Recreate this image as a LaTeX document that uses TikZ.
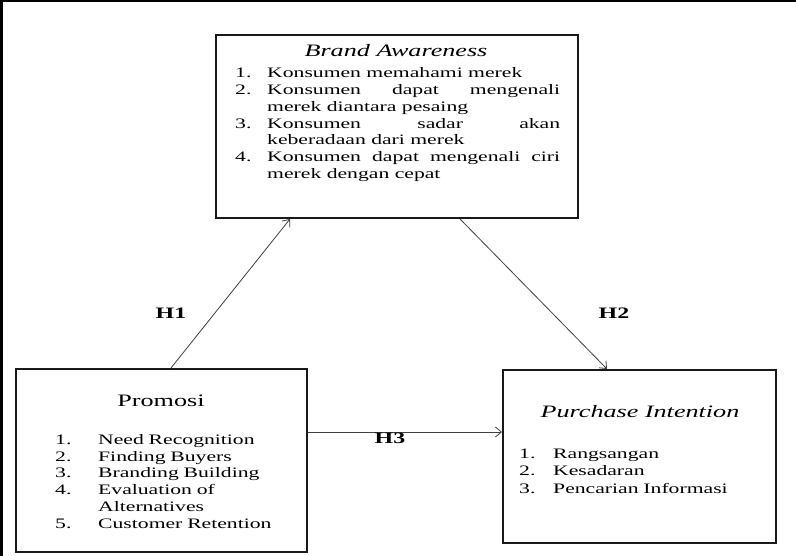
\documentclass[tikz,border=0pt]{standalone}
\usepackage{fontspec}
\setmainfont[FakeStretch=1.5]{Liberation Serif}
\usetikzlibrary{arrows.meta}

% numbered list item with hanging indent: #1 number column width, #2 number, #3 text
\newcommand\numitem[3]{\par\hangindent=#1\hangafter=1\noindent\makebox[#1][l]{#2}#3}

\begin{document}
\hyphenpenalty=10000
\exhyphenpenalty=10000
\begin{tikzpicture}[x=1bp,y=-1bp,
  varbox/.style={draw=black!90,line width=2bp,rectangle,inner sep=0pt},
  itemtext/.style={inner sep=0pt,anchor=north west,text=black,
    font=\fontsize{14.5}{16.8}\selectfont},
  titletext/.style={inner sep=0pt,text=black,font=\fontsize{17.5}{20}\selectfont},
  hlabel/.style={inner sep=0pt,text=black,font=\fontsize{16}{18}\selectfont\bfseries},
  link/.style={draw=black!75,line width=0.8bp,
    -{Straight Barb[length=6bp,width=10bp,line width=0.8bp]}}]

\useasboundingbox (0,0) rectangle (796,556);
\fill[white] (0,0) rectangle (796,556);

% frame edges along the top and the left
\draw[line width=2.5bp,black] (0,1.2) -- (796,1.2);
\draw[line width=2.5bp,black] (1.5,0) -- (1.5,556);

% the three variable boxes
\node[varbox,minimum width=362bp,minimum height=183bp] (brand) at (397,126.5) {};
\node[varbox,minimum width=291bp,minimum height=183bp] (promosi) at (161.5,460.5) {};
\node[varbox,minimum width=273bp,minimum height=173bp] (purchase) at (639.5,456.5) {};

% Brand Awareness
\node[titletext,font=\fontsize{17.5}{20}\selectfont\itshape] (brandtitle) at (396,51) {Brand Awareness};
\node[itemtext,text width=325bp,align=justify] (brandlist) at (235,61) {%
  \numitem{32bp}{1.}{Konsumen memahami merek}
  \numitem{32bp}{2.}{Konsumen dapat mengenali\linebreak merek diantara pesaing}
  \numitem{32bp}{3.}{Konsumen sadar akan\linebreak keberadaan dari merek}
  \numitem{32bp}{4.}{Konsumen dapat mengenali ciri\linebreak merek dengan cepat}\par};

% Promosi
\node[titletext] (promosititle) at (161,401) {Promosi};
\node[itemtext,text width=233bp,align=left] (promosilist) at (55,427.5) {%
  \numitem{43bp}{1.}{Need Recognition}
  \numitem{43bp}{2.}{Finding Buyers}
  \numitem{43bp}{3.}{Branding Building}
  \numitem{43bp}{4.}{Evaluation of\newline Alternatives}
  \numitem{43bp}{5.}{Customer Retention}\par};

% Purchase Intention
\node[titletext,font=\fontsize{17.5}{20}\selectfont\itshape] (purchasetitle) at (640,412) {Purchase Intention};
\node[itemtext,text width=240bp,align=left,font=\fontsize{14.5}{17.5}\selectfont] (purchaselist) at (519,440.5) {%
  \numitem{34bp}{1.}{Rangsangan}
  \numitem{34bp}{2.}{Kesadaran}
  \numitem{34bp}{3.}{Pencarian Informasi}\par};

% hypothesis paths
\draw[link] ([xshift=9.5bp]promosi.north) -- ([xshift=-107bp]brand.south);
\draw[link] ([xshift=63bp]brand.south) -- ([xshift=-32.5bp]purchase.north);
\draw[link] (promosi.east |- 0,432) -- (purchase.west |- 0,432);

\node[hlabel] (h1) at (171,313) {H1};
\node[hlabel] (h2) at (614,313) {H2};
\node[hlabel] (h3) at (390,438) {H3};

\end{tikzpicture}
\end{document}
